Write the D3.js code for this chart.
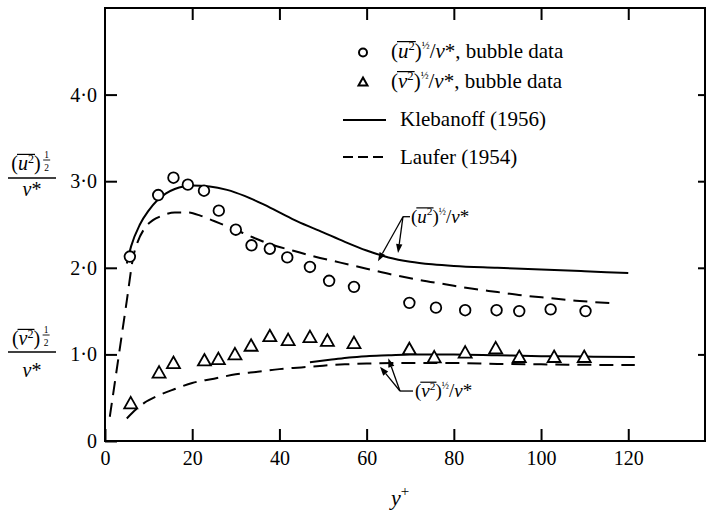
<!DOCTYPE html>
<html><head><meta charset="utf-8">
<script src="https://cdn.jsdelivr.net/npm/d3@7"></script>
<style>
body{margin:0;background:#fff}
svg{display:block}
text{font-family:"Liberation Serif","Times New Roman",serif;fill:#000}
</style>
</head><body>
<svg id="c" width="707" height="514"></svg>
<script>
// ---------- data ----------
const xTicks = [0, 20, 40, 60, 80, 100, 120];
const xTickLabels = ["0", "20", "40", "60", "80", "100", "120"];
const yTicks = [0, 1, 2, 3, 4];
const yTickLabels = ["0", "1·0", "2·0", "3·0", "4·0"];
const topTicks = [20, 40, 60, 80, 100, 120];
const rightTicks = [1, 2, 3, 4];

// bubble data, (u'^2)^1/2 / v*
const uBubbleX = [5.7, 12.2, 15.7, 19.0, 22.7, 26.1, 30.0, 33.6, 37.8, 41.8, 47.0, 51.4, 57.1, 69.8, 75.9, 82.6, 89.8, 95.0, 102.2, 110.2];
const uBubbleY = [2.13, 2.84, 3.04, 2.96, 2.89, 2.66, 2.44, 2.26, 2.22, 2.12, 2.01, 1.85, 1.78, 1.595, 1.54, 1.51, 1.51, 1.50, 1.52, 1.50];
// bubble data, (v'^2)^1/2 / v*
const vBubbleX = [5.9, 12.4, 15.7, 22.8, 26.0, 29.8, 33.5, 37.8, 42.0, 47.0, 51.0, 57.1, 69.8, 75.5, 82.6, 89.6, 95.0, 103.0, 109.9];
const vBubbleY = [0.435, 0.79, 0.90, 0.93, 0.945, 1.00, 1.10, 1.21, 1.165, 1.20, 1.157, 1.13, 1.06, 0.965, 1.02, 1.07, 0.97, 0.97, 0.97];

// Klebanoff (1956), u'
const klebUX = [5, 6, 8, 10, 12, 14, 16, 18, 20, 24, 28, 32, 36, 40, 44, 50, 55, 60, 65, 70, 75, 80, 90, 100, 110, 120];
const klebUY = [2.05, 2.25, 2.5, 2.66, 2.78, 2.86, 2.91, 2.94, 2.95, 2.94, 2.90, 2.83, 2.74, 2.64, 2.54, 2.41, 2.30, 2.20, 2.12, 2.07, 2.04, 2.02, 2.00, 1.98, 1.96, 1.94];
// Laufer (1954), u'
const laufUX = [1.1, 3, 5, 6.5, 7.5, 9, 11, 13, 16, 19, 22, 25, 29, 34, 38, 43, 48, 54, 60, 66, 72, 78, 84, 90, 96, 102, 108, 117];
const laufUY = [0.28, 0.93, 1.62, 2.13, 2.3, 2.45, 2.55, 2.6, 2.64, 2.64, 2.6, 2.54, 2.46, 2.35, 2.27, 2.20, 2.13, 2.06, 1.99, 1.92, 1.86, 1.81, 1.76, 1.72, 1.68, 1.65, 1.62, 1.59];
// Klebanoff (1956), v'
const klebVX = [47, 52, 56, 60, 65, 70, 80, 90, 100, 110, 121.5];
const klebVY = [0.91, 0.94, 0.965, 0.98, 0.99, 1.0, 1.0, 0.99, 0.98, 0.975, 0.97];
// Laufer (1954), v'
const laufVX = [5, 7, 9, 12, 16, 20, 25, 30, 35, 40, 45, 50, 55, 60, 70, 80, 90, 100, 110, 121.5];
const laufVY = [0.26, 0.36, 0.44, 0.52, 0.6, 0.67, 0.72, 0.77, 0.8, 0.83, 0.85, 0.87, 0.885, 0.895, 0.9, 0.9, 0.89, 0.885, 0.88, 0.877];

// annotation arrows (data coords): label anchor, tips
const uArrowFrom = [68.34, 2.59];
const uArrowTips = [[62.6, 2.075], [67.2, 2.17]];
const vArrowFrom = [67.65, 0.577];
const vArrowTips = [[63.07, 0.858], [64.97, 0.955]];

// ---------- drawing ----------
const svg = d3.select("#c");
const x = d3.scaleLinear().domain([0, 137.6]).range([105, 705]);
const y = d3.scaleLinear().domain([0, 5]).range([441, 8]);

svg.append("rect").attr("width", 707).attr("height", 514).attr("fill", "#fff");

// frame
svg.append("rect")
  .attr("x", x(0)).attr("y", y(5))
  .attr("width", x(137.6) - x(0)).attr("height", y(0) - y(5))
  .attr("fill", "none").attr("stroke", "#000").attr("stroke-width", 2);

function styleAxis(g, fs) {
  g.select(".domain").remove();
  g.selectAll(".tick line").attr("stroke", "#000").attr("stroke-width", 2);
  g.selectAll(".tick text").attr("fill", "#000")
    .style("font-family", '"Liberation Serif","Times New Roman",serif')
    .style("font-size", fs + "px");
}

svg.append("g").attr("transform", `translate(0,${y(0)})`)
  .call(d3.axisBottom(x).tickValues(xTicks).tickSize(-12).tickPadding(10)
    .tickFormat((d, i) => xTickLabels[i]))
  .call(g => styleAxis(g, 20));

svg.append("g").attr("transform", `translate(${x(0)},0)`)
  .call(d3.axisLeft(y).tickValues(yTicks).tickSize(-12).tickPadding(8)
    .tickFormat((d, i) => yTickLabels[i]))
  .call(g => styleAxis(g, 20));

svg.append("g").attr("transform", `translate(0,${y(5)})`)
  .call(d3.axisTop(x).tickValues(topTicks).tickSize(-12).tickFormat(""))
  .call(g => styleAxis(g, 20));

svg.append("g").attr("transform", `translate(${x(137.6)},0)`)
  .call(d3.axisRight(y).tickValues(rightTicks).tickSize(-7).tickFormat(""))
  .call(g => styleAxis(g, 20));

// curves
const line = d3.line().x(d => x(d[0])).y(d => y(d[1])).curve(d3.curveMonotoneX);
function drawCurve(xs, ys, dashed) {
  svg.append("path").datum(xs.map((v, i) => [v, ys[i]]))
    .attr("d", line).attr("fill", "none").attr("stroke", "#000")
    .attr("stroke-width", 2)
    .attr("stroke-dasharray", dashed ? "14,8" : null);
}
drawCurve(klebUX, klebUY, false);
drawCurve(laufUX, laufUY, true);
drawCurve(klebVX, klebVY, false);
drawCurve(laufVX, laufVY, true);

// markers
svg.append("g").selectAll("circle").data(uBubbleX.map((v, i) => [v, uBubbleY[i]]))
  .join("circle").attr("cx", d => x(d[0])).attr("cy", d => y(d[1])).attr("r", 5.3)
  .attr("fill", "#fff").attr("stroke", "#000").attr("stroke-width", 1.8);

function triPath(cx, cy, hw, up, down) {
  return `M${cx},${cy - up}L${cx + hw},${cy + down}L${cx - hw},${cy + down}Z`;
}
svg.append("g").selectAll("path").data(vBubbleX.map((v, i) => [v, vBubbleY[i]]))
  .join("path").attr("d", d => triPath(x(d[0]), y(d[1]), 6.5, 6.5, 5))
  .attr("fill", "#fff").attr("stroke", "#000").attr("stroke-width", 1.8)
  .attr("stroke-linejoin", "miter");

// rich text helper: parts = [{t, it, sup, ol, fs}]
function richText(px, py, parts, fs, anchor) {
  const t = svg.append("text").attr("x", px).attr("y", py).style("font-size", fs + "px");
  let shift = 0;
  const olIdx = [];
  let idx = 0;
  parts.forEach(p => {
    const ts = t.append("tspan").text(p.t);
    const target = p.sup ? -(p.supShift || fs * 0.4) : 0;
    if (target !== shift) { ts.attr("dy", target - shift); shift = target; }
    if (p.it) ts.style("font-style", "italic");
    if (p.fs) ts.style("font-size", p.fs + "px");
    for (let k = 0; k < p.t.length; k++) { if (p.ol) olIdx.push(idx); idx++; }
  });
  if (anchor) t.attr("text-anchor", anchor);
  const node = t.node();
  if (olIdx.length) {
    const a = node.getStartPositionOfChar(olIdx[0]).x;
    const b = node.getEndPositionOfChar(olIdx[olIdx.length - 1]).x;
    svg.append("line").attr("x1", a - 1).attr("x2", b + 1)
      .attr("y1", py - fs * 0.78).attr("y2", py - fs * 0.78)
      .attr("stroke", "#000").attr("stroke-width", 1.2);
  }
  return t;
}

function ratioParts(sym, fs) {
  return [
    {t: "("},
    {t: sym, it: true, ol: true},
    {t: "2", sup: true, ol: true, fs: fs * 0.6, supShift: fs * 0.38},
    {t: ")"},
    {t: "½", sup: true, fs: fs * 0.5, supShift: fs * 0.42},
    {t: "/"},
    {t: "v", it: true},
    {t: "*", sup: false}
  ];
}

// legend
svg.append("circle").attr("cx", 363).attr("cy", 52.5).attr("r", 4)
  .attr("fill", "#fff").attr("stroke", "#000").attr("stroke-width", 2);
richText(391, 58, ratioParts("u", 21).concat([{t: ", bubble data"}]), 21);
svg.append("path").attr("d", triPath(363, 82, 4.5, 4.5, 3.5))
  .attr("fill", "#fff").attr("stroke", "#000").attr("stroke-width", 2);
richText(391, 88, ratioParts("v", 21).concat([{t: ", bubble data"}]), 21);

svg.append("line").attr("x1", 343).attr("x2", 386).attr("y1", 120).attr("y2", 120)
  .attr("stroke", "#000").attr("stroke-width", 2);
svg.append("text").attr("x", 400).attr("y", 126).style("font-size", "21px").text("Klebanoff (1956)");
svg.append("line").attr("x1", 343).attr("x2", 386).attr("y1", 157).attr("y2", 157)
  .attr("stroke", "#000").attr("stroke-width", 2).attr("stroke-dasharray", "10,5");
svg.append("text").attr("x", 400).attr("y", 164).style("font-size", "21px").text("Laufer (1954)");

// annotation arrows
function arrow(from, tip) {
  const x1 = x(from[0]), y1 = y(from[1]), x2 = x(tip[0]), y2 = y(tip[1]);
  const ang = Math.atan2(y2 - y1, x2 - x1);
  const L = 9, Wd = 3.2;
  const bx = x2 - L * Math.cos(ang), by = y2 - L * Math.sin(ang);
  svg.append("line").attr("x1", x1).attr("y1", y1).attr("x2", bx).attr("y2", by)
    .attr("stroke", "#000").attr("stroke-width", 1.3);
  svg.append("path")
    .attr("d", `M${x2},${y2}L${bx - Wd * Math.sin(ang)},${by + Wd * Math.cos(ang)}L${bx + Wd * Math.sin(ang)},${by - Wd * Math.cos(ang)}Z`)
    .attr("fill", "#000");
}
uArrowTips.forEach(t => arrow(uArrowFrom, t));
vArrowTips.forEach(t => arrow(vArrowFrom, t));
svg.append("line").attr("x1", x(uArrowFrom[0])).attr("x2", x(uArrowFrom[0]) + 7)
  .attr("y1", y(uArrowFrom[1])).attr("y2", y(uArrowFrom[1])).attr("stroke", "#000").attr("stroke-width", 1.3);
svg.append("line").attr("x1", x(vArrowFrom[0])).attr("x2", x(vArrowFrom[0]) + 13)
  .attr("y1", y(vArrowFrom[1])).attr("y2", y(vArrowFrom[1])).attr("stroke", "#000").attr("stroke-width", 1.3);
richText(x(uArrowFrom[0]) + 8, y(uArrowFrom[1]) + 6, ratioParts("u", 19), 19);
richText(x(vArrowFrom[0]) + 15, y(vArrowFrom[1]) + 6, ratioParts("v", 19), 19);

// y-axis titles (stacked fractions)
function axisFrac(cx, numBase, barY, denBase, sym) {
  const fs = 20;
  const t = richText(cx - 6, numBase, [
    {t: "("}, {t: sym, it: true, ol: true},
    {t: "2", sup: true, ol: true, fs: 12, supShift: 7}, {t: ")"}
  ], fs, "middle");
  const endX = t.node().getEndPositionOfChar(3).x;
  // small stacked 1 over 2
  svg.append("text").attr("x", endX + 6).attr("y", numBase - 12.5).attr("text-anchor", "middle")
    .style("font-size", "9.5px").text("1");
  svg.append("text").attr("x", endX + 6).attr("y", numBase + 0.5).attr("text-anchor", "middle")
    .style("font-size", "9.5px").text("2");
  svg.append("line").attr("x1", endX + 2.5).attr("x2", endX + 9.5)
    .attr("y1", numBase - 10).attr("y2", numBase - 10).attr("stroke", "#000").attr("stroke-width", 0.9);
  svg.append("line").attr("x1", cx - 24).attr("x2", cx + 24).attr("y1", barY).attr("y2", barY)
    .attr("stroke", "#000").attr("stroke-width", 1.3);
  const d = svg.append("text").attr("x", cx).attr("y", denBase).attr("text-anchor", "middle")
    .style("font-size", fs + "px");
  d.append("tspan").style("font-style", "italic").text("v");
  d.append("tspan").text("*");
}
axisFrac(32, 170, 178, 196, "u");
axisFrac(32, 345, 352, 377, "v");

// x-axis title
const xt = svg.append("text").attr("x", 400).attr("y", 505).attr("text-anchor", "middle")
  .style("font-size", "22px");
xt.append("tspan").style("font-style", "italic").text("y");
xt.append("tspan").attr("dy", -9).style("font-size", "15px").text("+");
</script>
</body></html>
